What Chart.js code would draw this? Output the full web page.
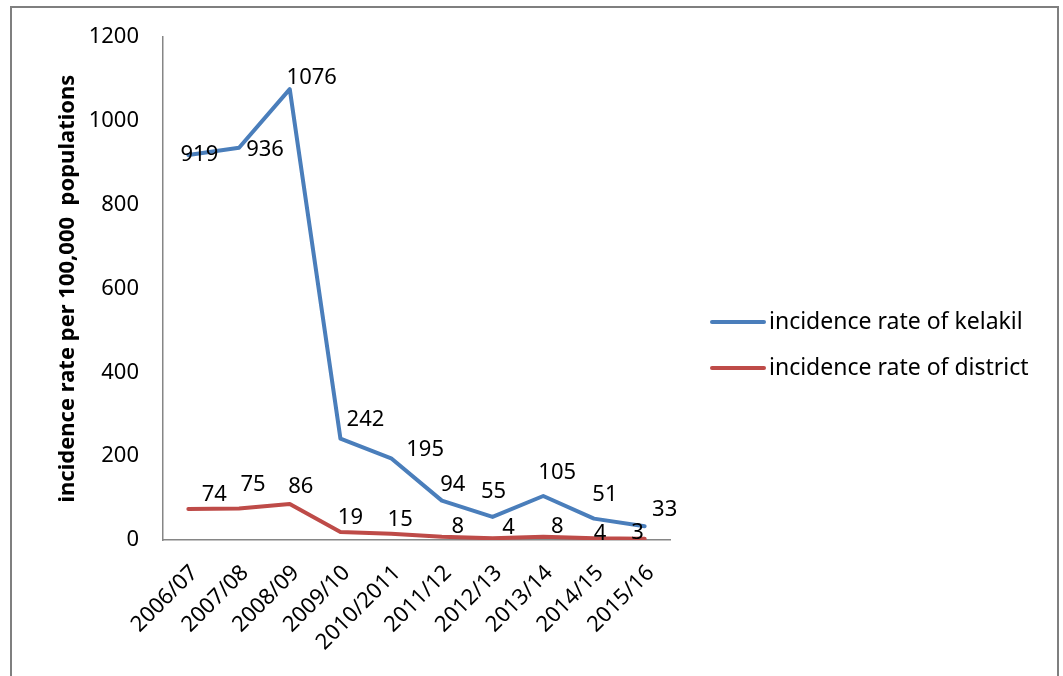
<!DOCTYPE html>
<html>
<head>
<meta charset="utf-8">
<script src="https://cdn.jsdelivr.net/npm/chart.js@4"></script>
<style>
  html, body { margin: 0; padding: 0; background: #fff; overflow: hidden; }
  #wrap { position: relative; width: 1063px; height: 676px; }
  #frame { position: absolute; left: 10px; top: 6px; width: 1049px; height: 700px;
           border: 2px solid #7f7f7f; box-sizing: border-box; pointer-events: none; }
  canvas { position: absolute; left: 0; top: 0; }
</style>
</head>
<body>
<div id="wrap">
  <canvas id="c" width="1063" height="676"></canvas>
  <div id="frame"></div>
</div>
<script>
// Years reported
const categories = ['2006/07', '2007/08', '2008/09', '2009/10', '2010/2011',
                    '2011/12', '2012/13', '2013/14', '2014/15', '2015/16'];
// Incidence per 100,000 population
const kelakil  = [919, 936, 1076, 242, 195, 94, 55, 105, 51, 33];
const district = [74, 75, 86, 19, 15, 8, 4, 8, 4, 3];
const seriesNames = ['incidence rate of kelakil', 'incidence rate of district'];
const yTicks = [0, 200, 400, 600, 800, 1000, 1200];

const FONT = '"Noto Sans", "Open Sans", sans-serif';
const BLUE = '#4a7ebb';
const RED = '#be4b48';

// Nudges for value labels, relative to each point
const labelNudge = [
  [[11, 0], [26, 2], [22, -11], [25, -19], [34, -9], [11, -16], [1, -25], [14, -23], [11, -24], [20, -16]],
  [[26, -14], [14, -24], [11, -17], [10, -14], [9, -14], [16, -10], [16, -11], [14, -10], [6, -5], [-7, -6]]
];

const valueLabels = {
  id: 'valueLabels',
  afterDatasetsDraw(chart) {
    const ctx = chart.ctx;
    ctx.save();
    ctx.font = '22px ' + FONT;
    ctx.fillStyle = '#000';
    ctx.textAlign = 'center';
    ctx.textBaseline = 'middle';
    chart.data.datasets.forEach((ds, di) => {
      chart.getDatasetMeta(di).data.forEach((pt, i) => {
        const n = labelNudge[di][i];
        ctx.fillText(String(ds.data[i]), pt.x + n[0], pt.y + n[1]);
      });
    });
    ctx.restore();
  }
};

const sideLegend = {
  id: 'sideLegend',
  afterDraw(chart) {
    const ctx = chart.ctx;
    ctx.save();
    ctx.font = '23px ' + FONT;
    ctx.textBaseline = 'middle';
    ctx.textAlign = 'left';
    chart.data.datasets.forEach((ds, i) => {
      const y = 322 + i * 46;
      ctx.strokeStyle = ds.borderColor;
      ctx.lineWidth = 4;
      ctx.lineCap = 'round';
      ctx.beginPath();
      ctx.moveTo(712, y);
      ctx.lineTo(764, y);
      ctx.stroke();
      ctx.fillStyle = '#000';
      ctx.fillText(ds.label, 769, y);
    });
    ctx.restore();
  }
};

new Chart(document.getElementById('c'), {
  type: 'line',
  data: {
    labels: categories,
    datasets: [
      { label: seriesNames[0], data: kelakil, borderColor: BLUE, backgroundColor: BLUE },
      { label: seriesNames[1], data: district, borderColor: RED, backgroundColor: RED }
    ]
  },
  options: {
    responsive: false,
    animation: false,
    devicePixelRatio: 1,
    layout: { padding: { left: 51, top: 37, right: 393, bottom: 0 } },
    elements: {
      line: { tension: 0, borderWidth: 4, borderJoinStyle: 'round', borderCapStyle: 'round' },
      point: { radius: 0, hoverRadius: 0 }
    },
    plugins: { legend: { display: false }, tooltip: { enabled: false } },
    scales: {
      x: {
        offset: true,
        grid: { display: false, drawTicks: false },
        border: { display: true, color: '#868686', width: 1.5 },
        ticks: {
          color: '#000',
          font: { family: FONT, size: 22 },
          minRotation: 45, maxRotation: 45,
          padding: 20,
          labelOffset: 6,
          autoSkip: false
        },
        afterFit(s) { s.height = 136; }
      },
      y: {
        min: 0, max: 1200,
        afterBuildTicks(s) { s.ticks = yTicks.map(v => ({ value: v })); },
        grid: { display: false, drawTicks: false },
        border: { display: true, color: '#868686', width: 1.5 },
        ticks: {
          color: '#000',
          font: { family: FONT, size: 22 },
          padding: 24,
          callback: v => String(v)
        },
        title: {
          display: true,
          text: 'incidence rate per 100,000  populations',
          color: '#000',
          font: { family: FONT, size: 22, weight: 'bold' },
          padding: { top: 4, bottom: 0 }
        },
        afterFit(s) { s.width = 112; }
      }
    }
  },
  plugins: [valueLabels, sideLegend]
});
</script>
</body>
</html>
